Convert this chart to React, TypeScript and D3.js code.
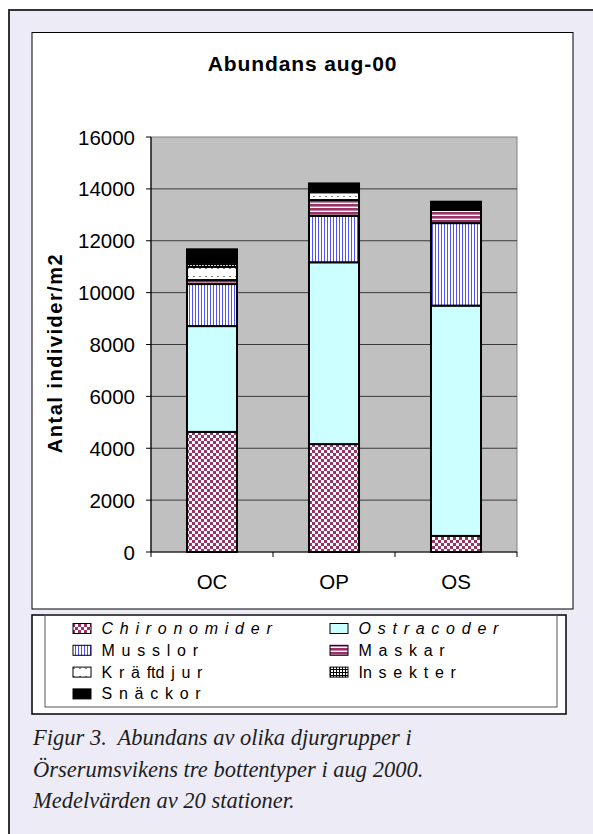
import React from "react";
import * as d3 from "d3";

// Stations (bottom types) and mean abundance per animal group (individer/m2)
const stations = ["OC", "OP", "OS"];
const chironomider = [4630, 4160, 620];
const ostracoder = [4080, 7010, 8880];
const musslor = [1620, 1790, 3180];
const maskar = [155, 610, 510];
const kraftdjur = [510, 300, 0];
const insekter = [155, 0, 0];
const snackor = [520, 340, 315];

const yTicks = [0, 2000, 4000, 6000, 8000, 10000, 12000, 14000, 16000];

const groupKeys = ["chir", "ostr", "muss", "mask", "kraf", "inse", "snac"];
const groupLabels = [
  "C h i r o n o m i d e r",
  "O s t r a c o d e r",
  "M u s s l o r",
  "M a s k a r",
  "K r ä ftd j u r",
  "In s e k t e r",
  "S n ä c k o r",
];
const groupItalic = [true, true, false, false, false, false, false];
const groupSeries = [chironomider, ostracoder, musslor, maskar, kraftdjur, insekter, snackor];

const fills: Record<string, string> = {
  chir: "url(#pChir)",
  ostr: "#CCFFFF",
  muss: "url(#pMuss)",
  mask: "url(#pMask)",
  kraf: "url(#pKraf)",
  inse: "url(#pInse)",
  snac: "#000000",
};

const W = 593;
const H = 834;
const plot = { left: 151, right: 517, top: 137, bottom: 552 };

export default function App() {
  const rows = stations.map((s, i) => {
    const r: Record<string, number | string> = { station: s };
    groupKeys.forEach((k, j) => (r[k] = groupSeries[j][i]));
    return r;
  });
  const stacked = d3.stack<any>().keys(groupKeys)(rows as any);

  const x = d3.scaleBand<string>().domain(stations).range([plot.left, plot.right]).padding(0);
  const y = d3.scaleLinear().domain([0, 16000]).range([plot.bottom, plot.top]);
  const barW = x.bandwidth() * 0.41;

  const sans = "'Liberation Sans', Arial, sans-serif";
  const serif = "'Liberation Serif', 'Times New Roman', serif";

  const legendRows = [
    [0, 1],
    [2, 3],
    [4, 5],
    [6],
  ];

  return (
    <svg
      width={W}
      height={H}
      style={{ position: "absolute", left: 0, top: 0, display: "block" }}
    >
      <defs>
        <pattern id="pChir" patternUnits="userSpaceOnUse" width={6} height={6}>
          <rect width={6} height={6} fill="#ffffff" />
          <rect x={0} y={0} width={3} height={3} fill="#993366" />
          <rect x={3} y={3} width={3} height={3} fill="#993366" />
        </pattern>
        <pattern id="pMuss" patternUnits="userSpaceOnUse" width={3} height={4}>
          <rect width={3} height={4} fill="#ffffff" />
          <rect x={0} y={0} width={1} height={4} fill="#5050FF" />
        </pattern>
        <pattern id="pMask" patternUnits="userSpaceOnUse" width={4} height={4}>
          <rect width={4} height={4} fill="#ffffff" />
          <rect x={0} y={0} width={4} height={2.6} fill="#993366" />
        </pattern>
        <pattern id="pKraf" patternUnits="userSpaceOnUse" width={6} height={8}>
          <rect width={6} height={8} fill="#ffffff" />
          <rect x={1} y={4} width={2} height={1} fill="#808080" />
        </pattern>
        <pattern id="pInse" patternUnits="userSpaceOnUse" width={3} height={3}>
          <rect width={3} height={3} fill="#ffffff" />
          <rect x={0} y={0} width={1} height={3} fill="#000000" />
          <rect x={0} y={0} width={3} height={1} fill="#000000" />
        </pattern>
      </defs>

      {/* page background and outer frame */}
      <rect x={0} y={0} width={W} height={H} fill="#ffffff" />
      <rect x={9} y={10} width={W + 20} height={H + 20} fill="#ECEBF6" stroke="#333333" strokeWidth={2} />

      {/* chart area */}
      <rect x={32} y={32.5} width={541} height={576.5} fill="#ffffff" stroke="#000000" strokeWidth={1} />

      <text
        x={302.5}
        y={71}
        textAnchor="middle"
        fontFamily={sans}
        fontWeight="bold"
        fontSize={21}
        letterSpacing={0.9}
      >
        Abundans aug-00
      </text>

      {/* plot background */}
      <rect
        x={plot.left}
        y={plot.top}
        width={plot.right - plot.left}
        height={plot.bottom - plot.top}
        fill="#C0C0C0"
        stroke="#808080"
        strokeWidth={1}
      />

      {/* gridlines */}
      {yTicks.slice(1, -1).map((t) => (
        <line key={t} x1={plot.left} x2={plot.right} y1={y(t)} y2={y(t)} stroke="#3a3a3a" strokeWidth={1} />
      ))}

      {/* stacked bars */}
      {stacked.map((layer) => (
        <g key={layer.key}>
          {layer.map((d, i) => {
            const h = y(d[0]) - y(d[1]);
            if (h <= 0) return null;
            const cx = (x(stations[i]) as number) + x.bandwidth() / 2;
            return (
              <rect
                key={i}
                x={cx - barW / 2}
                y={y(d[1])}
                width={barW}
                height={h}
                fill={fills[layer.key]}
                stroke="#000000"
                strokeWidth={2}
              />
            );
          })}
        </g>
      ))}

      {/* y axis */}
      <line x1={plot.left} x2={plot.left} y1={plot.top} y2={plot.bottom} stroke="#000" strokeWidth={1.2} />
      {yTicks.map((t) => (
        <g key={t}>
          <line x1={plot.left - 5} x2={plot.left} y1={y(t)} y2={y(t)} stroke="#000" strokeWidth={1} />
          <text
            x={135}
            y={y(t) + 7.5}
            textAnchor="end"
            fontFamily={sans}
            fontSize={20.5}
            fill="#000"
          >
            {t}
          </text>
        </g>
      ))}
      <text
        transform={`translate(62,353) rotate(-90)`}
        textAnchor="middle"
        fontFamily={sans}
        fontWeight="bold"
        fontSize={20}
        letterSpacing={1.5}
      >
        Antal individer/m2
      </text>

      {/* x axis */}
      <line x1={plot.left} x2={plot.right} y1={plot.bottom} y2={plot.bottom} stroke="#000" strokeWidth={1.2} />
      {[...stations.map((s) => x(s) as number), plot.right].map((v, i) => (
        <line key={i} x1={v} x2={v} y1={plot.bottom} y2={plot.bottom + 5} stroke="#000" strokeWidth={1} />
      ))}
      {stations.map((s) => (
        <text
          key={s}
          x={(x(s) as number) + x.bandwidth() / 2}
          y={589}
          textAnchor="middle"
          fontFamily={sans}
          fontSize={20.5}
        >
          {s}
        </text>
      ))}

      {/* legend */}
      <rect x={32} y={615} width={534} height={99} fill="#ffffff" stroke="#000" strokeWidth={1.5} />
      <rect x={45} y={615} width={512} height={92} fill="none" stroke="#555" strokeWidth={1} />
      {legendRows.map((row, ri) =>
        row.map((gi, ci) => {
          const ix = ci === 0 ? 73 : 330;
          const baseY = 634 + ri * 21.8;
          return (
            <g key={gi}>
              <rect
                x={ix}
                y={baseY - 10.5}
                width={18}
                height={10}
                fill={fills[groupKeys[gi]]}
                stroke="#000"
                strokeWidth={1}
              />
              <text
                x={ix + 28.5}
                y={baseY}
                fontFamily={sans}
                fontSize={16}
                fontStyle={groupItalic[gi] ? "italic" : "normal"}
                wordSpacing={2.3}
                style={{ whiteSpace: "pre" }}
              >
                {groupLabels[gi]}
              </text>
            </g>
          );
        })
      )}

      {/* caption */}
      {[
        "Figur 3.  Abundans av olika djurgrupper i",
        "Örserumsvikens tre bottentyper i aug 2000.",
        "Medelvärden av 20 stationer.",
      ].map((line, i) => (
        <text
          key={i}
          x={33}
          y={745 + i * 31.5}
          fontFamily={serif}
          fontStyle="italic"
          fontSize={22.5}
          fill="#1e1e1e"
          style={{ whiteSpace: "pre" }}
        >
          {line}
        </text>
      ))}
    </svg>
  );
}
